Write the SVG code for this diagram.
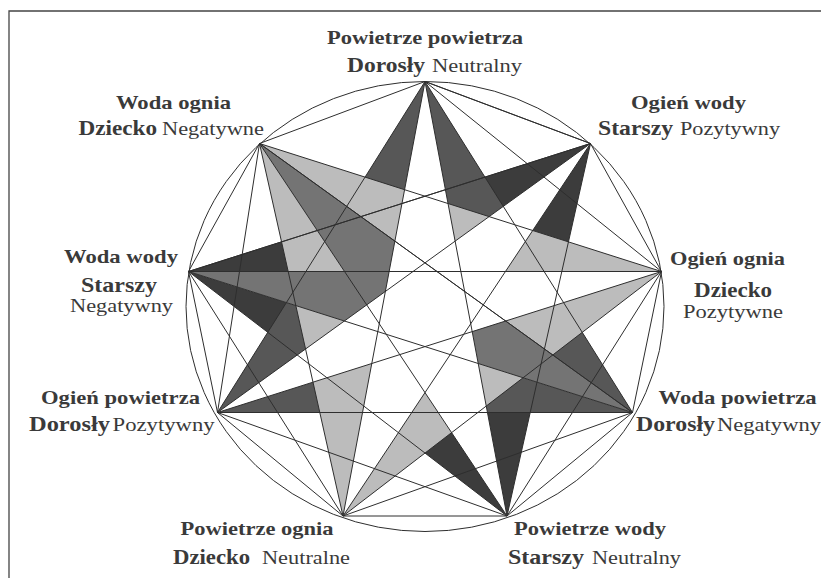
<svg xmlns="http://www.w3.org/2000/svg" width="821" height="578" viewBox="0 0 821 578">
  <style>
    .ln { fill: none; stroke: #2e2e2e; stroke-width: 1; stroke-linejoin: round; }
    .t1 { font-family: "Liberation Serif", "Times New Roman", serif; font-weight: bold; font-size: 19px; fill: #3a3a3a; }
    .t2 { font-family: "Liberation Serif", "Times New Roman", serif; font-weight: bold; font-size: 22px; fill: #3a3a3a; }
    .t3 { font-family: "Liberation Serif", "Times New Roman", serif; font-size: 18px; fill: #3a3a3a; }
  </style>
  <rect width="821" height="578" fill="#fff"/>
  <!-- frame -->
  <path d="M9 578V11H821" fill="none" stroke="#444" stroke-width="1.3"/>

  <!-- shaded faces -->
  <g id="faces" stroke="none">
    <!-- triangles P1-P4-P7, P0-P3-P6, P2-P5-P8 -->
    <polygon points="590.5,143.5 507,516 188.5,271.5" fill="#3c3c3c"/>
    <polygon points="425,81.5 632.5,412.5 217.5,412.5" fill="#575757"/>
    <polygon points="661.5,271.5 343,516 259.5,143.5" fill="#bcbcbc"/>
    <!-- nine-pointed star, white -->
    <polygon points="425,81.5 507,516 259.5,143.5 632.5,412.5 188.5,271.5 661.5,271.5 217.5,412.5 590.5,143.5 343,516" fill="#fff"/>
    <!-- mid grey facets -->
    <polygon points="259.5,143.5 394.9,241.1 385.4,291.4 344.4,321 188.5,271.5 344.5,271.5" fill="#747474"/>
    <polygon points="632.5,412.5 505.6,321 472.2,331.6 478.2,363.5" fill="#747474"/>
  </g>

  <!-- chords and outline -->
  <g id="connectors" class="ln">
    <ellipse cx="425" cy="306.5" rx="239" ry="225"/>
    <polygon points="425,81.5 590.5,143.5 661.5,271.5 632.5,412.5 507,516 343,516 217.5,412.5 188.5,271.5 259.5,143.5"/>
    <polygon points="425,81.5 661.5,271.5 507,516 217.5,412.5 259.5,143.5 632.5,412.5 343,516 188.5,271.5 590.5,143.5"/>
    <polygon points="590.5,143.5 507,516 188.5,271.5"/>
    <polygon points="425,81.5 632.5,412.5 217.5,412.5"/>
    <polygon points="661.5,271.5 343,516 259.5,143.5"/>
    <polygon points="425,81.5 507,516 259.5,143.5 632.5,412.5 188.5,271.5 661.5,271.5 217.5,412.5 590.5,143.5 343,516"/>
  </g>

  <!-- vertex labels -->
  <g id="n0">
    <text class="t1" x="327" y="44" textLength="196" lengthAdjust="spacingAndGlyphs">Powietrze powietrza</text>
    <text class="t2" x="347" y="72" textLength="78" lengthAdjust="spacingAndGlyphs">Dorosły</text>
    <text class="t3" x="432" y="72" textLength="90" lengthAdjust="spacingAndGlyphs">Neutralny</text>
  </g>
  <g id="n1">
    <text class="t1" x="631" y="108.5" textLength="115" lengthAdjust="spacingAndGlyphs">Ogień wody</text>
    <text class="t2" x="598" y="134.5" textLength="75" lengthAdjust="spacingAndGlyphs">Starszy</text>
    <text class="t3" x="680" y="134.5" textLength="100" lengthAdjust="spacingAndGlyphs">Pozytywny</text>
  </g>
  <g id="n2">
    <text class="t1" x="670" y="265" textLength="115" lengthAdjust="spacingAndGlyphs">Ogień ognia</text>
    <text class="t2" x="694" y="297" textLength="78" lengthAdjust="spacingAndGlyphs">Dziecko</text>
    <text class="t3" x="683" y="318" textLength="100" lengthAdjust="spacingAndGlyphs">Pozytywne</text>
  </g>
  <g id="n3">
    <text class="t1" x="658.6" y="403.5" textLength="158" lengthAdjust="spacingAndGlyphs">Woda powietrza</text>
    <text class="t2" x="636" y="431" textLength="79" lengthAdjust="spacingAndGlyphs">Dorosły</text>
    <text class="t3" x="717" y="431" textLength="104" lengthAdjust="spacingAndGlyphs">Negatywny</text>
  </g>
  <g id="n4">
    <text class="t1" x="514" y="534.5" textLength="152" lengthAdjust="spacingAndGlyphs">Powietrze wody</text>
    <text class="t2" x="508" y="564" textLength="76" lengthAdjust="spacingAndGlyphs">Starszy</text>
    <text class="t3" x="592" y="564" textLength="89" lengthAdjust="spacingAndGlyphs">Neutralny</text>
  </g>
  <g id="n5">
    <text class="t1" x="180.6" y="534.5" textLength="153" lengthAdjust="spacingAndGlyphs">Powietrze ognia</text>
    <text class="t2" x="173" y="564" textLength="77" lengthAdjust="spacingAndGlyphs">Dziecko</text>
    <text class="t3" x="262" y="564" textLength="88" lengthAdjust="spacingAndGlyphs">Neutralne</text>
  </g>
  <g id="n6">
    <text class="t1" x="41" y="403.5" textLength="159" lengthAdjust="spacingAndGlyphs">Ogień powietrza</text>
    <text class="t2" x="29" y="431" textLength="81" lengthAdjust="spacingAndGlyphs">Dorosły</text>
    <text class="t3" x="112.6" y="431" textLength="102" lengthAdjust="spacingAndGlyphs">Pozytywny</text>
  </g>
  <g id="n7">
    <text class="t1" x="64" y="263" textLength="114" lengthAdjust="spacingAndGlyphs">Woda wody</text>
    <text class="t2" x="81" y="291.5" textLength="76" lengthAdjust="spacingAndGlyphs">Starszy</text>
    <text class="t3" x="70" y="312" textLength="103" lengthAdjust="spacingAndGlyphs">Negatywny</text>
  </g>
  <g id="n8">
    <text class="t1" x="116" y="108.5" textLength="115" lengthAdjust="spacingAndGlyphs">Woda ognia</text>
    <text class="t2" x="78.5" y="134.5" textLength="78.5" lengthAdjust="spacingAndGlyphs">Dziecko</text>
    <text class="t3" x="162" y="134.5" textLength="102" lengthAdjust="spacingAndGlyphs">Negatywne</text>
  </g>
</svg>
